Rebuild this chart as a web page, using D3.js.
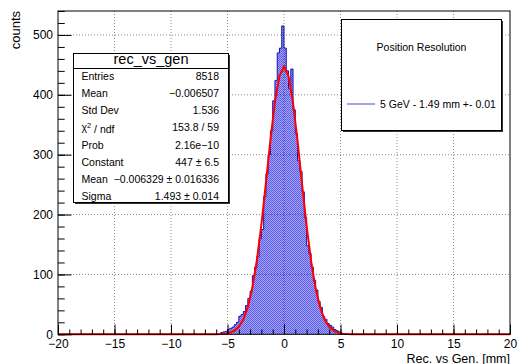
<!DOCTYPE html>
<html lang="en">
<head>
  <meta charset="UTF-8">
  <title>rec_vs_gen</title>
  <script src="https://d3js.org/d3.v7.min.js"></script>
  <style>
    body {
      margin: 0;
      background: #fff;
      font-family: "Liberation Sans", Arial, sans-serif;
    }
    .axis text {
      font-family: "Liberation Sans", Arial, sans-serif;
      font-size: 12px;
      fill: #000;
    }
    .axis path { display: none; }
    .axis line { stroke: #000; }
    .grid line {
      stroke: #000;
      stroke-opacity: 0.45;
      stroke-dasharray: 1,2;
    }
  </style>
</head>
<body>
  <div id="chart"></div>

  <script>
    // histogram bins (width 0.2 mm), only the non-empty ones
    const binWidth = 0.2;
    const binCenters = [
      -5.5, -5.3, -5.1, -4.9, -4.7, -4.5, -4.3, -4.1, -3.9, -3.7,
      -3.5, -3.3, -3.1, -2.9, -2.7, -2.5, -2.3, -2.1, -1.9, -1.7,
      -1.5, -1.3, -1.1, -0.9, -0.7, -0.5, -0.3, -0.1, 0.1, 0.3,
      0.5, 0.7, 0.9, 1.1, 1.3, 1.5, 1.7, 1.9, 2.1, 2.3,
      2.5, 2.7, 2.9, 3.1, 3.3, 3.5, 3.7, 3.9, 4.1, 4.3,
      4.5, 4.7, 4.9
    ];
    const counts = [
      3, 4, 5, 8, 10, 12, 16, 20, 30, 33,
      38, 48, 60, 72, 98, 112, 130, 160, 175, 230,
      268, 300, 340, 390, 424, 470, 478, 515, 478, 440,
      410, 443, 375, 335, 290, 272, 238, 195, 148, 135,
      112, 90, 74, 55, 45, 30, 25, 18, 15, 12,
      8, 6, 4
    ];

    // gaussian fit parameters (from the stats box)
    const fitConstant = 447;
    const fitMean = -0.006329;
    const fitSigma = 1.493;

    const xTicks = [-20, -15, -10, -5, 0, 5, 10, 15, 20];
    const yTicks = [0, 100, 200, 300, 400, 500];

    const statsTitle = 'rec_vs_gen';
    const statsLabels = ['Entries', 'Mean', 'Std Dev', 'chi2', 'Prob', 'Constant', 'Mean', 'Sigma'];
    const statsValues = ['8518', '\u22120.006507', '1.536', '153.8 / 59', '2.16e\u221210',
                         '447 \u00b1 6.5', '\u22120.006329 \u00b1 0.016336', '1.493 \u00b1 0.014'];

    const legendTitle = 'Position Resolution';
    const legendEntry = '5 GeV - 1.49 mm +- 0.01';

    const width = 521;
    const height = 364;
    const frame = { left: 58, right: 510, top: 11, bottom: 334.3 };

    const svg = d3.select('#chart')
                  .append('svg')
                  .attr('width', width)
                  .attr('height', height);

    const x = d3.scaleLinear().domain([-20, 20]).range([frame.left, frame.right]);
    const y = d3.scaleLinear().domain([0, 540]).range([frame.bottom, frame.top]);

    // fill pattern like ROOT's 3001 style
    const defs = svg.append('defs');
    const pat = defs.append('pattern')
      .attr('id', 'dots')
      .attr('width', 2).attr('height', 2)
      .attr('patternUnits', 'userSpaceOnUse');
    pat.append('rect').attr('width', 2).attr('height', 2).attr('fill', '#a4a4f8');
    pat.append('rect').attr('width', 1).attr('height', 1).attr('fill', '#5c5ce8');
    pat.append('rect').attr('x', 1).attr('y', 1).attr('width', 1).attr('height', 1).attr('fill', '#5c5ce8');

    // histogram as step points (left edge, count), closed with last edge
    const steps = binCenters.map((c, i) => [c - binWidth / 2, counts[i]]);
    const lastEdge = binCenters[binCenters.length - 1] + binWidth / 2;
    steps.push([lastEdge, counts[counts.length - 1]]);

    const area = d3.area()
      .x(d => x(d[0]))
      .y0(y(0))
      .y1(d => y(d[1]))
      .curve(d3.curveStepAfter);

    svg.append('path')
       .datum(steps)
       .attr('d', area)
       .attr('fill', 'url(#dots)');

    const outline = [[-20, 0], [steps[0][0], 0]].concat(steps, [[lastEdge, 0], [20, 0]]);
    svg.append('path')
       .datum(outline)
       .attr('d', d3.line().x(d => x(d[0])).y(d => y(d[1])).curve(d3.curveStepAfter))
       .attr('fill', 'none')
       .attr('stroke', '#1515a8')
       .attr('stroke-width', 1);

    // grid
    const grid = svg.append('g').attr('class', 'grid');
    grid.selectAll('.gx')
        .data(xTicks.slice(1, -1))
        .enter().append('line')
        .attr('x1', d => x(d)).attr('x2', d => x(d))
        .attr('y1', frame.top).attr('y2', frame.bottom);
    grid.selectAll('.gy')
        .data(yTicks.slice(1))
        .enter().append('line')
        .attr('x1', frame.left).attr('x2', frame.right)
        .attr('y1', d => y(d)).attr('y2', d => y(d));

    // fit curve, 100 segments over the axis range like ROOT's TF1
    const fitX = d3.range(101).map(i => -20 + i * 0.4);
    const gaus = v => fitConstant * Math.exp(-0.5 * Math.pow((v - fitMean) / fitSigma, 2));
    svg.append('path')
       .datum(fitX)
       .attr('d', d3.line().x(d => x(d)).y(d => y(gaus(d))))
       .attr('fill', 'none')
       .attr('stroke', '#ff0000')
       .attr('stroke-width', 2);

    // axes (ticks drawn inward)
    const xAxis = svg.append('g')
      .attr('class', 'axis')
      .attr('transform', `translate(0,${frame.bottom})`)
      .call(d3.axisBottom(x).tickValues(xTicks).tickSize(-9.7).tickPadding(6)
              .tickFormat(d3.format('d')));
    xAxis.selectAll('text').attr('dy', '0.71em').attr('y', 5.5);

    svg.append('g')
      .attr('class', 'axis')
      .attr('transform', `translate(0,${frame.bottom})`)
      .call(d3.axisBottom(x).tickValues(d3.range(-20, 21, 1)).tickSize(-4.8).tickFormat(''));

    svg.append('g')
      .attr('class', 'axis')
      .attr('transform', `translate(${frame.left},0)`)
      .call(d3.axisLeft(y).tickValues(yTicks).tickSize(-13.5).tickPadding(5));

    svg.append('g')
      .attr('class', 'axis')
      .attr('transform', `translate(${frame.left},0)`)
      .call(d3.axisLeft(y).tickValues(d3.range(0, 541, 20)).tickSize(-6.7).tickFormat(''));

    // frame
    svg.append('rect')
       .attr('x', frame.left).attr('y', frame.top)
       .attr('width', frame.right - frame.left)
       .attr('height', frame.bottom - frame.top)
       .attr('fill', 'none')
       .attr('stroke', '#000');

    // axis titles
    svg.append('text')
       .attr('x', frame.right).attr('y', 362.5)
       .attr('text-anchor', 'end')
       .attr('font-size', 12.5)
       .text('Rec. vs Gen. [mm]');

    svg.append('text')
       .attr('transform', `translate(20,${frame.top}) rotate(-90)`)
       .attr('text-anchor', 'end')
       .attr('font-size', 13)
       .text('counts');

    // stats box
    const sb = { x: 73.5, y: 53.5, w: 155, h: 149 };
    const stats = svg.append('g');
    stats.append('rect')
         .attr('x', sb.x + 1.5).attr('y', sb.y + 1.5)
         .attr('width', sb.w).attr('height', sb.h)
         .attr('fill', '#333');
    stats.append('rect')
         .attr('x', sb.x).attr('y', sb.y)
         .attr('width', sb.w).attr('height', sb.h)
         .attr('fill', '#fff').attr('stroke', '#000');
    stats.append('line')
         .attr('x1', sb.x).attr('x2', sb.x + sb.w)
         .attr('y1', 68.5).attr('y2', 68.5)
         .attr('stroke', '#000');
    stats.append('text')
         .attr('x', sb.x + sb.w / 2).attr('y', 64)
         .attr('text-anchor', 'middle')
         .attr('font-size', 14.5)
         .text(statsTitle);

    const rowY = i => 76 + i * 17.25;
    statsLabels.forEach((lab, i) => {
      const t = stats.append('text')
        .attr('x', 81.5).attr('y', rowY(i))
        .attr('dy', '0.35em')
        .attr('font-size', 10.5);
      if (lab === 'chi2') {
        t.append('tspan').text('\u03c7');
        t.append('tspan').attr('dy', '-0.4em').attr('font-size', 7.5).text('2');
        t.append('tspan').attr('dy', '0.4em').text(' / ndf');
      } else {
        t.text(lab);
      }
      stats.append('text')
        .attr('x', 219).attr('y', rowY(i))
        .attr('dy', '0.35em')
        .attr('text-anchor', 'end')
        .attr('font-size', 10.5)
        .text(statsValues[i]);
    });

    // legend
    const lg = { x: 341.5, y: 19.5, w: 160, h: 111 };
    const leg = svg.append('g');
    leg.append('rect')
       .attr('x', lg.x + 1.5).attr('y', lg.y + 1.5)
       .attr('width', lg.w).attr('height', lg.h)
       .attr('fill', '#333');
    leg.append('rect')
       .attr('x', lg.x).attr('y', lg.y)
       .attr('width', lg.w).attr('height', lg.h)
       .attr('fill', '#fff').attr('stroke', '#000');
    leg.append('text')
       .attr('x', 421.5).attr('y', 47)
       .attr('dy', '0.35em')
       .attr('text-anchor', 'middle')
       .attr('font-size', 10.5)
       .text(legendTitle);
    leg.append('line')
       .attr('x1', 347).attr('x2', 375)
       .attr('y1', 104).attr('y2', 104)
       .attr('stroke', '#4b4bc4');
    leg.append('text')
       .attr('x', 380).attr('y', 104)
       .attr('dy', '0.35em')
       .attr('font-size', 10.5)
       .text(legendEntry);
  </script>
</body>
</html>
